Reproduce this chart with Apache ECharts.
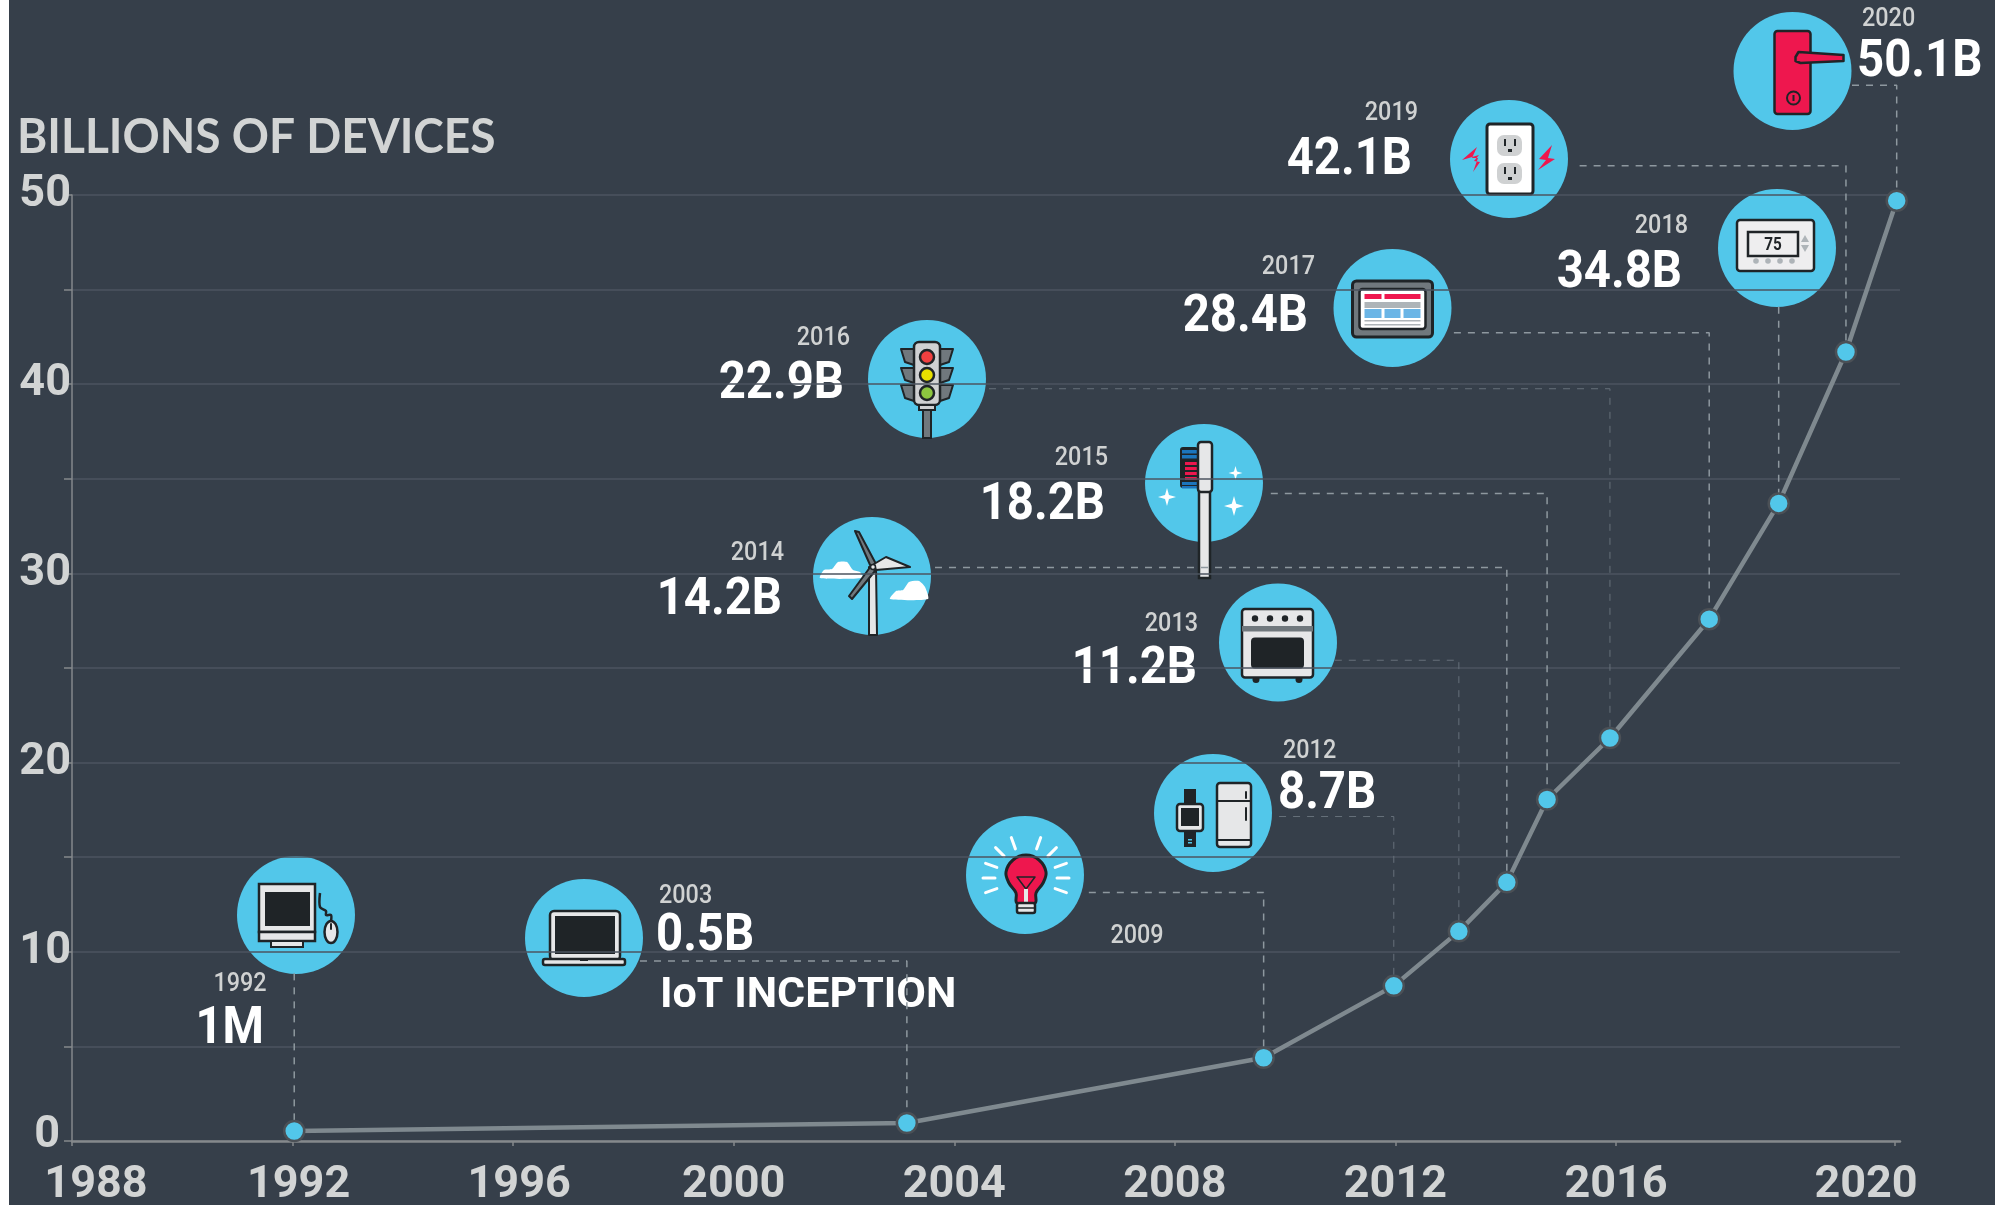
<!DOCTYPE html>
<html>
<head>
<meta charset="utf-8">
<title>Billions of devices</title>
<style>
  html, body { margin: 0; padding: 0; background: #fff; }
  #chart { width: 1995px; height: 1205px; }
</style>
<script src="https://cdn.jsdelivr.net/npm/echarts@6/dist/echarts.min.js"></script>
</head>
<body>
<div id="chart"></div>
<script>
// data
const years = ['1992', '2003', '2009', '2012', '2013', '2014', '2015', '2016', '2017', '2018', '2019', '2020']
// where each dot sits along the x axis (the last axis step is stretched in the original)
const xPos = [1992.03, 2003.14, 2009.61, 2011.97, 2013.15, 2014.02, 2014.75, 2015.89, 2017.69, 2018.95, 2020.17, 2021.09]
const billions = [0.53, 0.95, 4.4, 8.2, 11.08, 13.67, 18.05, 21.3, 27.58, 33.7, 41.7, 49.7]
const valueLabels = ['1M', '0.5B', '', '8.7B', '11.2B', '14.2B', '18.2B', '22.9B', '28.4B', '34.8B', '42.1B', '50.1B']
const xTickValues = [1988, 1992, 1996, 2000, 2004, 2008, 2012, 2016, 2021.06]
const xTickLabels = ['1988', '1992', '1996', '2000', '2004', '2008', '2012', '2016', '2020']
// dashed leaders: x where the leader leaves the icon, y of its horizontal run
const leaderStartX = [1992.03, 1998.3, 2006.44, 2009.89, 2010.9, 2003.65, 2009.74, 2004.63, 2013.06, 2018.95, 2015.34, 2020.28]
const leaderElbowY = [8.86, 9.51, 13.14, 17.15, 25.41, 30.31, 34.22, 39.76, 42.72, 44.09, 51.54, 55.8]
const leaderDim = [false, false, false, true, true, false, false, true, false, false, false, false]

const BG = '#363f4a'
const BLUE = '#52c7ea'
const DARK = '#1f2427'
const LIGHT = '#e6e7e8'
const RED = '#ee174e'
const GREY = '#70787d'
const FONT = 'Roboto, sans-serif'

// small shape helpers for the icons
const rect = (x, y, w, h, fill, stroke, lw, r) => ({ type: 'rect', shape: { x, y, width: w, height: h, r: r || 0 }, style: { fill, stroke: stroke || null, lineWidth: lw || 0 } })
const circle = (cx, cy, r, fill, stroke, lw) => ({ type: 'circle', shape: { cx, cy, r }, style: { fill, stroke: stroke || null, lineWidth: lw || 0 } })
const line = (x1, y1, x2, y2, stroke, lw) => ({ type: 'line', shape: { x1, y1, x2, y2 }, style: { stroke, lineWidth: lw, lineCap: 'round' } })
const poly = (points, fill, stroke, lw, smooth) => ({ type: 'polygon', shape: { points, smooth: smooth || 0 }, style: { fill, stroke: stroke || null, lineWidth: lw || 0, lineJoin: 'round' } })
const star = (x, y, r) => poly([[x, y - r], [x + r * 0.22, y - r * 0.22], [x + r, y], [x + r * 0.22, y + r * 0.22], [x, y + r], [x - r * 0.22, y + r * 0.22], [x - r, y], [x - r * 0.22, y - r * 0.22]], '#fff')

const iconComputer = () => [
  rect(-37, -31, 56, 48, LIGHT, DARK, 2.5),
  rect(-31, -23, 45, 34, DARK),
  rect(-37, 17, 56, 9, LIGHT, DARK, 2.5),
  rect(-25, 26, 32, 6, LIGHT, DARK, 2),
  { type: 'polyline', shape: { points: [[24, -22], [24, -8], [30, -4], [30, 0], [35, 0], [35, 6]], smooth: 0.3 }, style: { stroke: DARK, lineWidth: 2.5, fill: null } },
  { type: 'ellipse', shape: { cx: 35, cy: 17, rx: 6.5, ry: 11 }, style: { fill: LIGHT, stroke: DARK, lineWidth: 2.5 } },
  line(35, 9, 35, 14, DARK, 2)
]
const iconLaptop = () => [
  rect(-34, -27, 70, 49, LIGHT, DARK, 2.5, 4),
  rect(-29, -22, 60, 38, DARK),
  rect(-41, 21, 82, 6, LIGHT, DARK, 2.5, 2),
  rect(-4, 21, 8, 2, DARK)
]
const iconBulb = () => {
  const rays = [0, -20, -45, -70, -110, -135, -160, 180, 160, 20].map(a => {
    const t = a * Math.PI / 180
    return line(1 + 31 * Math.cos(t), 3 + 31 * Math.sin(t), 1 + 43 * Math.cos(t), 3 + 43 * Math.sin(t), '#fff', 3)
  })
  return rays.concat([
    poly([[1, -20], [14, -15], [21, -3], [18, 8], [11, 18], [10, 28], [-8, 28], [-9, 18], [-16, 8], [-19, -3], [-12, -15]], RED, DARK, 3, 0.4),
    poly([[-8, 2], [10, 2], [1, 14]], null, DARK, 1.5),
    rect(-1, 14, 4, 14, LIGHT),
    rect(-8, 28, 18, 10, LIGHT, DARK, 2.5, 2),
    line(-8, 33, 10, 33, DARK, 1.5)
  ])
}
const iconWatchFridge = () => [
  rect(-29, -24, 12, 15, DARK),
  rect(-29, 18, 12, 16, DARK),
  rect(-25, 26, 4, 1.5, BLUE),
  rect(-25, 29, 4, 1.5, BLUE),
  rect(-36, -9, 26, 27, LIGHT, DARK, 2.5, 3),
  rect(-32, -5, 18, 18, DARK),
  rect(4, -30, 34, 64, LIGHT, DARK, 2.5, 3),
  line(4, -12, 38, -12, DARK, 2),
  line(4, 27, 38, 27, DARK, 2),
  line(33, -21, 33, -15, DARK, 2),
  line(33, -5, 33, 7, DARK, 2)
]
const iconOven = () => [
  circle(-22, 37, 3.5, DARK),
  circle(21, 37, 3.5, DARK),
  rect(-36, -33.5, 71, 68.5, LIGHT, DARK, 2.5, 3),
  rect(-36, -16.5, 71, 5.5, GREY),
  circle(-23, -24, 3.2, DARK),
  circle(-8, -24, 3.2, DARK),
  circle(7, -24, 3.2, DARK),
  circle(22, -24, 3.2, DARK),
  rect(-27, -5, 53, 31, DARK, null, 0, 4)
]
const iconTurbine = () => [
  poly([[-52, 2], [-48, -6], [-40, -7], [-34, -14], [-25, -14], [-19, -6], [-12, -4], [-9, 2]], '#fff', null, 0, 0.2),
  poly([[18, 23], [24, 15], [31, 14], [37, 6], [47, 5], [53, 11], [56, 23]], '#fff', null, 0, 0.2),
  poly([[-3, -9], [4, -9], [5, 59], [-3, 59]], LIGHT, DARK, 2),
  poly([[-1, -9], [-17, -45], [-13, -44], [4, -12]], GREY, DARK, 2),
  poly([[2, -12], [14, -19], [38, -9], [4, -6]], LIGHT, DARK, 2),
  poly([[-1, -10], [3, -5], [-20, 23], [-23, 20]], GREY, DARK, 2),
  circle(1, -9, 2.5, LIGHT, DARK, 1.5)
]
const iconBrush = () => [
  star(31.5, -10, 7),
  star(-37, 14, 9),
  star(30, 23, 10),
  rect(-24, -36, 18, 41, DARK, null, 0, 3),
  rect(-22, -33, 16, 3.5, '#1c75bc'),
  rect(-22, -28, 16, 3.5, '#1c75bc'),
  rect(-19, -21, 13, 3, RED),
  rect(-19, -16, 13, 3, RED),
  rect(-19, -11, 13, 3, RED),
  rect(-19, -6, 13, 3, RED),
  rect(-22, -1, 16, 3, '#1c75bc'),
  rect(-22, 3, 16, 2.5, '#1c75bc'),
  rect(-5, 5, 11, 90, LIGHT, DARK, 2.5),
  rect(-6, -41, 14, 50, LIGHT, DARK, 2.5, 3)
]
const iconTraffic = () => [
  rect(-4, 29, 8, 30, GREY, DARK, 2),
  poly([[-26, -30], [-13, -30], [-13, -14], [-22, -17]], GREY, DARK, 2),
  poly([[26, -30], [13, -30], [13, -14], [22, -17]], GREY, DARK, 2),
  poly([[-26, -11], [-13, -11], [-13, 4], [-22, 1]], GREY, DARK, 2),
  poly([[26, -11], [13, -11], [13, 4], [22, 1]], GREY, DARK, 2),
  poly([[-26, 6], [-13, 6], [-13, 22], [-22, 19]], GREY, DARK, 2),
  poly([[26, 6], [13, 6], [13, 22], [22, 19]], GREY, DARK, 2),
  rect(-13, -37, 26, 63, '#cfd1d2', DARK, 2.5, 5),
  rect(-8, 26, 16, 5, '#cfd1d2', DARK, 2),
  circle(0, -22, 7, '#f04040', DARK, 2.5),
  circle(0, -4, 7, '#e8e000', DARK, 2.5),
  circle(0, 14, 7, '#8cc63f', DARK, 2.5)
]
const iconTablet = () => [
  rect(-40, -27, 80, 56, GREY, DARK, 3, 4),
  rect(-33, -19, 66, 40, '#fff', DARK, 2.5, 3),
  rect(-28, -14, 17, 5, RED),
  rect(-8, -14, 36, 5, RED),
  rect(-28, -6, 56, 6, '#aeb4b8'),
  rect(-28, 1, 17, 9, '#6bb5e6'),
  rect(-8, 1, 16, 9, '#6bb5e6'),
  rect(11, 1, 17, 9, '#6bb5e6'),
  rect(-28, 12, 56, 1.5, '#aeb4b8'),
  rect(-28, 16, 56, 1.5, '#aeb4b8')
]
const iconThermostat = () => [
  rect(-40, -28, 77, 51, '#eeeeef', DARK, 2.5, 3),
  rect(-29, -16, 50, 24, '#eeeeef', DARK, 2.5),
  { type: 'text', x: -4, y: -3, scaleX: 0.85, style: { x: 0, y: 0, text: '75', font: 'bold 18px ' + FONT, fill: DARK, align: 'center', verticalAlign: 'middle' } },
  poly([[28, -13], [32, -6], [24, -6]], '#aeb4b8'),
  poly([[28, 4], [32, -3], [24, -3]], '#aeb4b8'),
  circle(-21, 13, 2.8, '#aeb4b8'),
  circle(-9, 13, 2.8, '#aeb4b8'),
  circle(3, 13, 2.8, '#aeb4b8'),
  circle(15, 13, 2.8, '#aeb4b8')
]
const iconOutlet = () => {
  const socket = y => [
    rect(-12, y, 25, 21, '#cfd1d2', null, 0, 7),
    rect(-5, y + 4, 2, 7, DARK),
    rect(5, y + 4, 2, 7, DARK),
    rect(-1, y + 14, 4, 3, DARK)
  ]
  return [
    rect(-22, -35, 46, 70, '#fff', DARK, 3, 3),
    ...socket(-24), ...socket(4),
    poly([[-32, -12], [-37, -1], [-31, -1], [-36, 13], [-29, 3], [-35, 2], [-30, -4], [-47, 1]], RED),
    poly([[43, -14], [30, 0], [37, 1], [29, 11], [46, 0], [39, -1]], RED)
  ]
}
const iconDoor = () => [
  rect(-18, -40, 36, 83, RED, DARK, 2.5, 3),
  poly([[3, -14], [6, -19], [51, -16], [51, -10], [8, -8], [3, -10]], RED, DARK, 2.5),
  circle(1, 27, 6.5, RED, DARK, 2),
  rect(0, 24, 2, 6, DARK)
]

// icon centre in page pixels, same order as years
const iconCentres = [[296, 915], [584, 938], [1025, 875], [1213, 813], [1278, 642.5], [872, 576], [1204, 483], [927, 379], [1392.5, 308], [1777, 248], [1509, 159], [1792.5, 71]]
const iconDraw = [iconComputer, iconLaptop, iconBulb, iconWatchFridge, iconOven, iconTurbine, iconBrush, iconTraffic, iconTablet, iconThermostat, iconOutlet, iconDoor]

// label anchors: [year x, year y, year align, value x, value y, value align]
const labelAnchors = [
  [240, 984, 'center', 264, 1030, 'right'],
  [659, 896, 'left', 656, 937, 'left'],
  [1137, 936, 'center', 0, 0, 'left'],
  [1283, 751, 'left', 1278, 795, 'left'],
  [1198, 624, 'right', 1197, 670, 'right'],
  [784, 553, 'right', 782, 601, 'right'],
  [1108, 458, 'right', 1105, 506, 'right'],
  [850, 338, 'right', 844, 385, 'right'],
  [1315, 267, 'right', 1308, 318, 'right'],
  [1688, 226, 'right', 1682, 274, 'right'],
  [1418, 113, 'right', 1412, 161, 'right'],
  [1862, 19, 'left', 1857, 63, 'left']
]

// narrowed text: the original face is condensed, so squeeze around the anchor
const text = (x, y, t, font, fill, align, sx) => ({ type: 'text', x, y, scaleX: sx || 1, style: { x: 0, y: 0, text: t, font, fill, align, verticalAlign: 'middle' } })

const elements = [
  rect(0, 0, 9, 1205, '#fff'),
  text(17, 138, 'BILLIONS OF DEVICES', 'bold 47px Lato, sans-serif', '#d2d4d4', 'left', 0.98),
  text(660, 996, 'IoT INCEPTION', 'bold 43px ' + FONT, '#fff', 'left')
]
years.forEach((y, i) => {
  const [cx, cy] = iconCentres[i]
  elements.push({ type: 'group', x: cx, y: cy, children: [circle(0, 0, 59, BLUE)].concat(iconDraw[i]()) })
  const a = labelAnchors[i]
  elements.push(text(a[0], a[1], y, '500 26px ' + FONT, '#d0d2d2', a[2], 0.9))
  if (valueLabels[i]) elements.push(text(a[3], a[4], valueLabels[i], 'bold 52px ' + FONT, '#fff', a[5], 0.91))
})

const leaderSeries = years.map((y, i) => ({
  type: 'line',
  silent: true,
  clip: false,
  symbol: 'none',
  z: 1,
  lineStyle: { color: leaderDim[i] ? '#66707a' : '#8e989f', width: leaderDim[i] ? 1 : 1.5, type: [7, 7] },
  data: [[leaderStartX[i], leaderElbowY[i]], [xPos[i], leaderElbowY[i]], [xPos[i], billions[i]]]
}))

const labelRich = { color: '#d2d4d4', fontSize: 45, fontWeight: 'bold', fontFamily: FONT }

const chart = echarts.init(document.getElementById('chart'))
chart.setOption({
  backgroundColor: BG,
  animation: false,
  // outerBoundsMode none: the labels sit close to the page edge, keep the grid where it is set
  grid: { left: 72, right: 95, top: 195, bottom: 64, outerBoundsMode: 'none' },
  graphic: { z: 5, zlevel: 1, elements },
  xAxis: {
    type: 'value',
    min: 1988,
    max: 2021.15,
    splitLine: { show: false },
    axisLine: { onZero: false, lineStyle: { color: '#85898c', width: 2.5 } },
    axisTick: { customValues: xTickValues, length: 5, lineStyle: { color: '#85898c', width: 1.5 } },
    axisLabel: {
      customValues: xTickValues,
      margin: 22,
      ...labelRich,
      formatter: v => {
        const t = xTickLabels[xTickValues.indexOf(v)]
        if (v === 1988) return '{first|' + t + '}'
        if (v === 1992 || v === 1996) return '{early|' + t + '}'
        if (v === xTickValues[xTickValues.length - 1]) return '{last|' + t + '}'
        return t
      },
      rich: {
        first: { padding: [0, 0, 0, 48], ...labelRich },
        early: { padding: [0, 0, 0, 12], ...labelRich },
        last: { padding: [0, 58, 0, 0], ...labelRich }
      }
    }
  },
  yAxis: {
    type: 'value',
    min: 0,
    max: 50,
    interval: 5,
    splitLine: { lineStyle: { color: '#4c5560', width: 1.5 } },
    axisLine: { show: true, lineStyle: { color: '#85898c', width: 1.5 } },
    axisTick: { show: true, length: 8, lineStyle: { color: '#85898c', width: 1.5 } },
    axisLabel: {
      margin: 1,
      ...labelRich,
      formatter: v => {
        if (v === 0) return '{zero|0}'
        return v % 10 === 0 ? '{n|' + v + '}' : ''
      },
      rich: {
        n: { ...labelRich },
        zero: { padding: [0, 11, 10, 0], ...labelRich }
      }
    }
  },
  series: leaderSeries.concat([{
    type: 'line',
    z: 3,
    symbol: 'circle',
    symbolSize: 20,
    itemStyle: { color: BLUE, borderColor: '#4b5056', borderWidth: 2.5 },
    lineStyle: { color: '#7f898f', width: 4.5 },
    data: xPos.map((x, i) => [x, billions[i]])
  }])
})
</script>
</body>
</html>
